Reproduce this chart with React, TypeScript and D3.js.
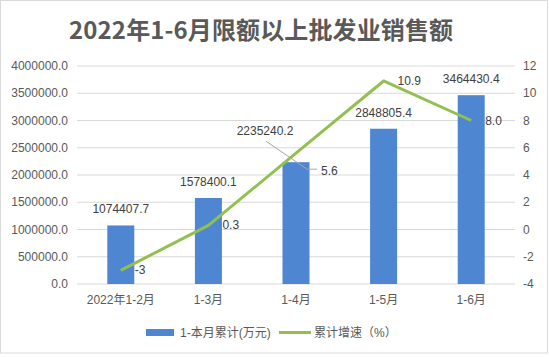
import React from "react";
import * as d3 from "d3";

const categories = ["2022年1-2月", "1-3月", "1-4月", "1-5月", "1-6月"];
const salesValues = [1074407.7, 1578400.1, 2235240.2, 2848805.4, 3464430.4];
const growthValues = [-3, 0.3, 5.6, 10.9, 8.0];
const growthLabels = ["-3", "0.3", "5.6", "10.9", "8.0"];
const leftTicks = [0, 500000, 1000000, 1500000, 2000000, 2500000, 3000000, 3500000, 4000000];
const rightTicks = [-4, -2, 0, 2, 4, 6, 8, 10, 12];
const title = "2022年1-6月限额以上批发业销售额";
const legendBar = "1-本月累计(万元)";
const legendLine = "累计增速（%）";

const W = 549;
const H = 357;
const plotL = 77;
const plotR = 515;
const plotT = 66;
const plotB = 284;
const FONT = "'Liberation Sans', 'Noto Sans CJK SC', sans-serif";
const BAR = "#4F86D1";
const LINE = "#92C050";

export default function App() {
  const x = d3.scaleBand<string>().domain(categories).range([plotL, plotR]).paddingInner(0).paddingOuter(0);
  const yL = d3.scaleLinear().domain([0, 4000000]).range([plotB, plotT]);
  const yR = d3.scaleLinear().domain([-4, 12]).range([plotB, plotT]);
  const barW = 27;
  const cx = (c: string) => (x(c) as number) + x.bandwidth() / 2;
  const linePath = d3
    .line<number>()
    .x((_, i) => cx(categories[i]))
    .y((d) => yR(d))(growthValues) as string;

  const barLabelOffset = (i: number) => (i === 2 ? { dx: -31, dy: -27 } : { dx: 0, dy: -12 });

  return (
    <svg
      width={W}
      height={H}
      style={{ position: "absolute", left: 0, top: 0, background: "#fff" }}
      fontFamily={FONT}
    >
      <rect x={0.5} y={0.5} width={547} height={352.5} fill="#fff" stroke="#d9d9d9" />
      <text
        x={261}
        y={39}
        textAnchor="middle"
        fontSize={24}
        fontWeight="bold"
        fill="#595959"
        fontFamily="'Noto Sans CJK SC', sans-serif"
        textLength={384}
        lengthAdjust="spacing"
      >
        {title}
      </text>
      {leftTicks.map((t) => (
        <g key={"g" + t}>
          <line x1={plotL} x2={plotR} y1={yL(t)} y2={yL(t)} stroke="#d9d9d9" strokeWidth={1} />
          <text x={68} y={yL(t) + 4} textAnchor="end" fontSize={12} fill="#595959">
            {t.toFixed(1)}
          </text>
        </g>
      ))}
      {rightTicks.map((t) => (
        <text key={"r" + t} x={523} y={yR(t) + 4} textAnchor="start" fontSize={12} fill="#595959">
          {t}
        </text>
      ))}
      {categories.map((c, i) => (
        <rect
          key={"b" + c}
          x={cx(c) - barW / 2}
          y={yL(salesValues[i])}
          width={barW}
          height={plotB - yL(salesValues[i])}
          fill={BAR}
        />
      ))}
      {categories.map((c) => (
        <text key={"x" + c} x={cx(c)} y={304} textAnchor="middle" fontSize={12} fill="#595959">
          {c}
        </text>
      ))}
      {categories.map((c, i) => {
        const o = barLabelOffset(i);
        return (
          <text
            key={"bl" + c}
            x={cx(c) + o.dx}
            y={yL(salesValues[i]) + o.dy}
            textAnchor="middle"
            fontSize={12}
            fill="#404040"
          >
            {salesValues[i].toFixed(1)}
          </text>
        );
      })}
      {(() => {
        const px = cx(categories[2]);
        const py = yR(growthValues[2]);
        return (
          <path
            d={`M${px - 30},${py - 12}L${px + 11},${py + 16}L${px + 21},${py + 16}`}
            fill="none"
            stroke="#a6a6a6"
            strokeWidth={1}
          />
        );
      })()}
      <path d={linePath} fill="none" stroke={LINE} strokeWidth={3} strokeLinejoin="round" />
      {categories.map((c, i) => {
        const px = cx(c);
        const py = yR(growthValues[i]);
        const special = i === 2;
        return (
          <text
            key={"ll" + c}
            x={px + (special ? 25 : 14)}
            y={py + (special ? 17.5 : 0) + 4}
            textAnchor="start"
            fontSize={12}
            fill="#404040"
          >
            {growthLabels[i]}
          </text>
        );
      })}
      <rect x={146} y={329} width={28} height={7} fill={BAR} />
      <text x={180} y={336.5} fontSize={12} fill="#595959">
        {legendBar}
      </text>
      <line x1={279} x2={311} y1={332.5} y2={332.5} stroke={LINE} strokeWidth={3} />
      <text x={314} y={336.5} fontSize={12} fill="#595959">
        {legendLine}
      </text>
    </svg>
  );
}
